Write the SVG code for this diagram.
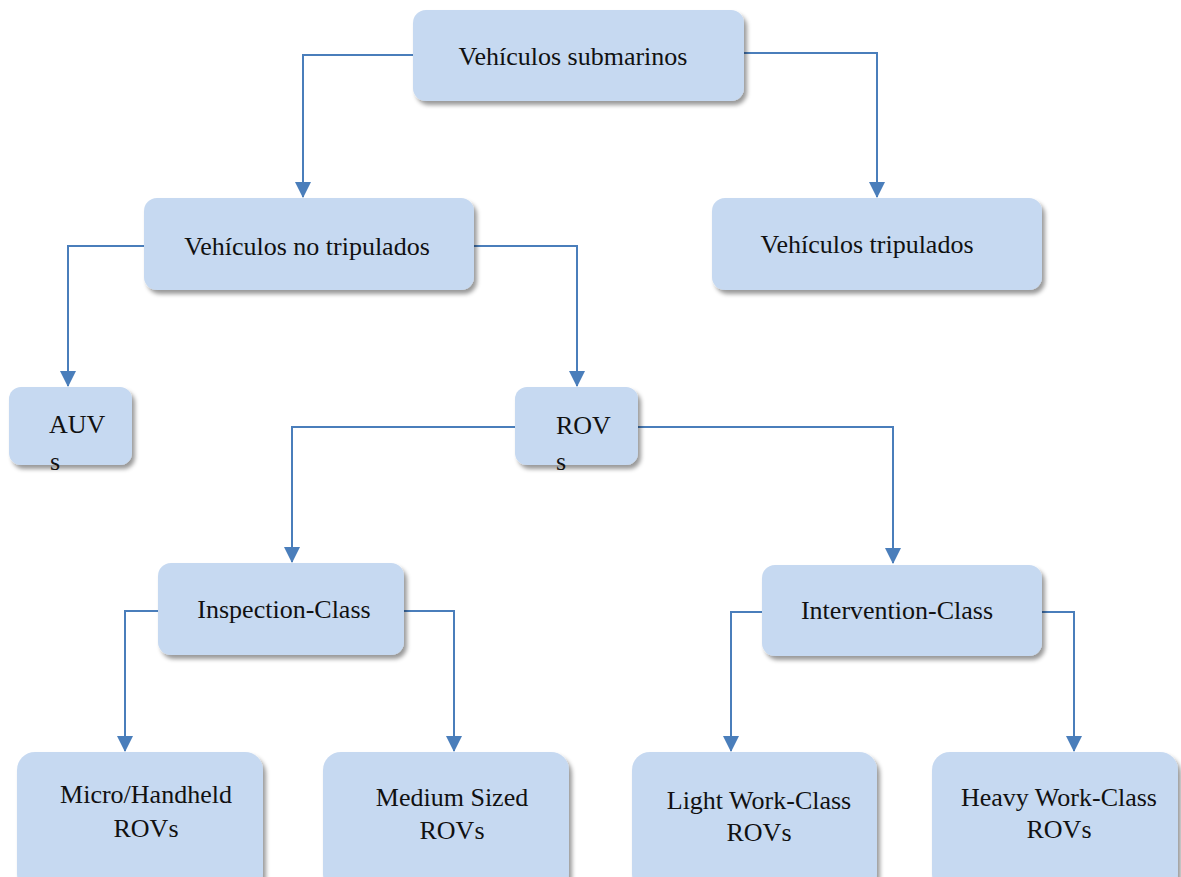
<svg xmlns="http://www.w3.org/2000/svg" width="1181" height="877" viewBox="0 0 1181 877">
<style>
.box{fill:#c6d9f1;filter:url(#sh)}
.c{fill:none;stroke:#4a7ebb;stroke-width:2;marker-end:url(#ar)}
</style>
<defs>
<filter id="sh" x="-10%" y="-10%" width="125%" height="130%">
<feDropShadow dx="3" dy="4" stdDeviation="2" flood-color="#000" flood-opacity="0.4"/>
</filter>
<marker id="ar" markerWidth="16" markerHeight="16" refX="8" refY="15" orient="0" markerUnits="userSpaceOnUse" viewBox="0 0 16 16">
<path d="M0 0 L16 0 L8 16 Z" fill="#4a7ebb"/>
</marker>
</defs>
<rect width="1181" height="877" fill="#fff"/>
<g id="connectors">
<path class="c" d="M413 55 H303 V197"/>
<path class="c" d="M744 53 H877 V197"/>
<path class="c" d="M144 246 H68 V386"/>
<path class="c" d="M474 246 H577 V386"/>
<path class="c" d="M515 427 H292 V562"/>
<path class="c" d="M638 427 H893 V563"/>
<path class="c" d="M158 611 H125 V751"/>
<path class="c" d="M404 611 H454 V751"/>
<path class="c" d="M762 612 H731 V751"/>
<path class="c" d="M1042 612 H1074 V751"/>
</g>
<g font-family="Liberation Serif, DejaVu Serif, serif" font-size="26" fill="#111" text-anchor="middle">
<g id="n-submarinos"><rect class="box" x="413" y="10" width="331" height="91" rx="13"/><text x="573" y="65">Vehículos submarinos</text></g>
<g id="n-notripulados"><rect class="box" x="144" y="198" width="330" height="92" rx="13"/><text x="307" y="255">Vehículos no tripulados</text></g>
<g id="n-tripulados"><rect class="box" x="712" y="198" width="330" height="92" rx="13"/><text x="867" y="253">Vehículos tripulados</text></g>
<g id="n-auvs"><rect class="box" x="9" y="387" width="123" height="78" rx="12"/><text x="49" y="433" text-anchor="start">AUV</text><text x="50" y="470" text-anchor="start">s</text></g>
<g id="n-rovs"><rect class="box" x="515" y="387" width="123" height="78" rx="12"/><text x="556" y="434" text-anchor="start">ROV</text><text x="556" y="470" text-anchor="start">s</text></g>
<g id="n-inspection"><rect class="box" x="158" y="563" width="246" height="92" rx="13"/><text x="284" y="618">Inspection-Class</text></g>
<g id="n-intervention"><rect class="box" x="762" y="565" width="280" height="91" rx="13"/><text x="897" y="619">Intervention-Class</text></g>
<g id="n-micro"><rect class="box" x="17" y="752" width="246" height="140" rx="18"/><text x="146" y="803">Micro/Handheld</text><text x="146" y="837">ROVs</text></g>
<g id="n-medium"><rect class="box" x="323" y="752" width="246" height="140" rx="18"/><text x="452" y="806">Medium Sized</text><text x="452" y="839">ROVs</text></g>
<g id="n-light"><rect class="box" x="632" y="752" width="245" height="140" rx="18"/><text x="759" y="809">Light Work-Class</text><text x="759" y="841">ROVs</text></g>
<g id="n-heavy"><rect class="box" x="932" y="752" width="246" height="140" rx="18"/><text x="1059" y="806">Heavy Work-Class</text><text x="1059" y="838">ROVs</text></g>
</g>
</svg>
